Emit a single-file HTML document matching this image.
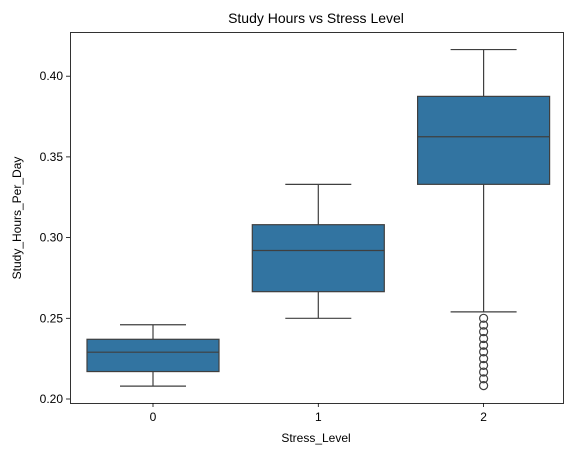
<!DOCTYPE html>
<html><head><meta charset="utf-8"><style>body{margin:0;background:#fff}svg{font-family:"Liberation Sans","DejaVu Sans",sans-serif}</style></head>
<body>
<svg id="c" width="576" height="455" xmlns="http://www.w3.org/2000/svg">
<text x="316" y="23" font-size="14" text-anchor="middle">Study Hours vs Stress Level</text>
<g id="plot"></g>
<rect x="70.5" y="32.5" width="493" height="371" fill="none" stroke="#000" stroke-width="0.8"/>
<text x="316" y="442" font-size="12" text-anchor="middle">Stress_Level</text>
<text transform="translate(21,218) rotate(-90)" font-size="12" text-anchor="middle">Study_Hours_Per_Day</text>
</svg>
<script>
const categories=["0","1","2"];
const whiskLow=[0.208,0.250,0.254];
const q1=[0.217,0.2665,0.333];
const median=[0.229,0.292,0.3625];
const q3=[0.237,0.308,0.3875];
const whiskHigh=[0.246,0.333,0.4165];
const outliers=[[],[],[0.25,0.2458,0.2417,0.2375,0.2333,0.2292,0.225,0.2208,0.2167,0.2125,0.2083]];
const yTicks=[0.20,0.25,0.30,0.35,0.40];
const NS="http://www.w3.org/2000/svg";
const g=document.getElementById('plot');
const y=v=>399-(v-0.2)*1614;
const x=i=>153+i*165.3;
const bw=132;
function mk(t,a,p){const e=document.createElementNS(NS,t);for(const k in a)e.setAttribute(k,a[k]);(p||g).appendChild(e);return e;}
yTicks.forEach(v=>{
 const l=mk('line',{x1:66,x2:70,y1:y(v),y2:y(v),stroke:'#000','stroke-width':0.8});
 
 
 const t=mk('text',{x:63,y:y(v)+4,'font-size':12,'text-anchor':'end'});t.textContent=v.toFixed(2);
 
 
});
categories.forEach((c,i)=>{
 const cx=x(i);
 const l=mk('line',{x1:cx,x2:cx,y1:403,y2:407,stroke:'#000','stroke-width':0.8});
 
 
 const t=mk('text',{x:cx,y:421,'font-size':12,'text-anchor':'middle'});t.textContent=c;
 
 
 const grp=mk('g',{});
 
 
 const s={stroke:'#3f3f3f','stroke-width':1.2,fill:'none'};
 mk('line',Object.assign({x1:cx,x2:cx,y1:y(whiskLow[i]),y2:y(q1[i])},s),grp);
 mk('line',Object.assign({x1:cx,x2:cx,y1:y(q3[i]),y2:y(whiskHigh[i])},s),grp);
 mk('line',Object.assign({x1:cx-bw/4,x2:cx+bw/4,y1:y(whiskLow[i]),y2:y(whiskLow[i])},s),grp);
 mk('line',Object.assign({x1:cx-bw/4,x2:cx+bw/4,y1:y(whiskHigh[i]),y2:y(whiskHigh[i])},s),grp);
 mk('rect',{x:cx-bw/2,y:y(q3[i]),width:bw,height:y(q1[i])-y(q3[i]),fill:'#3274a1',stroke:'#3f3f3f','stroke-width':1.2},grp);
 mk('line',Object.assign({x1:cx-bw/2,x2:cx+bw/2,y1:y(median[i]),y2:y(median[i])},s),grp);
 outliers[i].forEach(v=>{
  const o=mk('circle',{cx:cx,cy:y(v),r:4,fill:'none',stroke:'#3f3f3f','stroke-width':1.2},grp);
  
  
 });
});
</script>
</body></html>
